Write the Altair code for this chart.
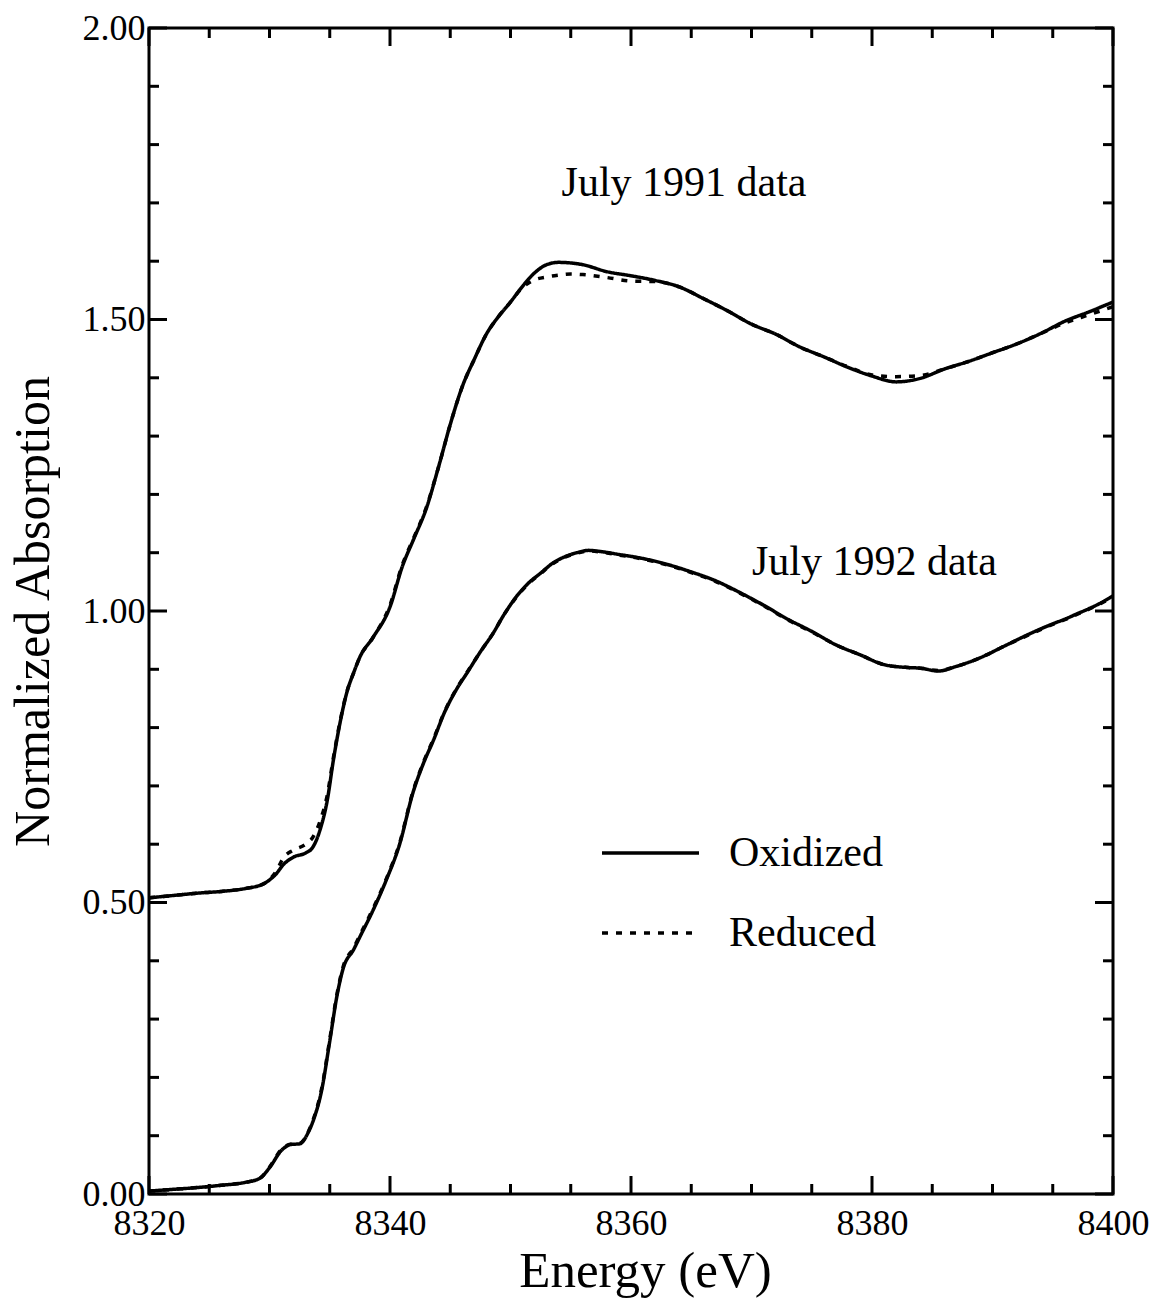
import altair as alt
import pandas as pd

FONT = "Liberation Serif"

# ---- July 1991 scan: energy (eV) and normalized absorption ----
energy_1991 = [
    8320, 8322, 8324, 8326, 8328, 8329.5, 8330.5, 8331.2, 8332, 8333,
    8333.6, 8334.2, 8334.8, 8335.3, 8335.9, 8336.4, 8337, 8337.5, 8338.6, 8340,
    8341, 8342, 8343, 8344, 8345, 8346, 8347, 8348, 8349, 8350,
    8351, 8352, 8353, 8354, 8355, 8356, 8358, 8360, 8362, 8364,
    8366, 8368, 8370, 8372, 8374, 8376, 8378, 8380, 8382, 8384,
    8386, 8388, 8390, 8392, 8394, 8396, 8398, 8400,
]
oxidized_1991 = [
    0.508, 0.512, 0.516, 0.519, 0.524, 0.532, 0.548, 0.566, 0.578, 0.585,
    0.595, 0.625, 0.676, 0.744, 0.813, 0.859, 0.895, 0.921, 0.955, 1.007,
    1.075, 1.125, 1.175, 1.245, 1.320, 1.385, 1.432, 1.475, 1.505, 1.530,
    1.557, 1.580, 1.594, 1.598, 1.597, 1.594, 1.582, 1.575, 1.567, 1.556,
    1.536, 1.515, 1.492, 1.475, 1.453, 1.436, 1.418, 1.403, 1.393, 1.399,
    1.415, 1.428, 1.443, 1.458, 1.476, 1.497, 1.513, 1.530,
]
reduced_1991 = [
    0.508, 0.512, 0.516, 0.519, 0.524, 0.532, 0.552, 0.578, 0.590, 0.600,
    0.612, 0.640, 0.685, 0.748, 0.815, 0.860, 0.895, 0.921, 0.955, 1.010,
    1.078, 1.127, 1.177, 1.245, 1.320, 1.385, 1.432, 1.475, 1.505, 1.530,
    1.555, 1.568, 1.573, 1.576, 1.578, 1.577, 1.572, 1.566, 1.565, 1.556,
    1.536, 1.515, 1.492, 1.475, 1.453, 1.436, 1.419, 1.405, 1.402, 1.404,
    1.415, 1.428, 1.443, 1.458, 1.476, 1.494, 1.508, 1.522,
]

# ---- July 1992 scan ----
energy_1992 = [
    8320, 8322, 8324, 8326, 8328, 8329.2, 8330, 8331, 8331.8, 8332.5,
    8333.2, 8333.7, 8334.3, 8335, 8335.6, 8336.1, 8337, 8337.5, 8338.6, 8339.7,
    8340.8, 8341.9, 8342.8, 8343.6, 8344.5, 8345.5, 8346.4, 8347.5, 8348.5, 8349.5,
    8350.5, 8351.5, 8352.5, 8353.5, 8354.5, 8355.5, 8356.5, 8357.5, 8359, 8361,
    8363, 8365, 8367, 8369, 8371, 8373, 8375, 8377, 8379, 8381,
    8383, 8384, 8385.5, 8387, 8389, 8391, 8393, 8395, 8396, 8397, 8398, 8399, 8400,
]
oxidized_1992 = [
    0.005, 0.008, 0.011, 0.015, 0.020, 0.027, 0.045, 0.075, 0.085, 0.086,
    0.105, 0.130, 0.175, 0.262, 0.340, 0.386, 0.420, 0.441, 0.487, 0.539,
    0.600, 0.688, 0.740, 0.778, 0.825, 0.865, 0.894, 0.930, 0.960, 0.995,
    1.025, 1.048, 1.065, 1.082, 1.093, 1.100, 1.104, 1.102, 1.097, 1.090,
    1.080, 1.067, 1.052, 1.032, 1.010, 0.986, 0.965, 0.942, 0.925, 0.908,
    0.903, 0.902, 0.897, 0.905, 0.920, 0.940, 0.960, 0.978, 0.986, 0.995, 1.004, 1.014, 1.026,
]
reduced_1992 = [
    0.005, 0.008, 0.011, 0.015, 0.020, 0.027, 0.046, 0.077, 0.086, 0.087,
    0.106, 0.132, 0.178, 0.265, 0.343, 0.389, 0.423, 0.444, 0.490, 0.541,
    0.602, 0.690, 0.742, 0.780, 0.826, 0.866, 0.895, 0.930, 0.960, 0.995,
    1.024, 1.047, 1.064, 1.081, 1.092, 1.099, 1.103, 1.101, 1.096, 1.089,
    1.079, 1.066, 1.051, 1.031, 1.009, 0.985, 0.964, 0.942, 0.925, 0.908,
    0.903, 0.902, 0.898, 0.905, 0.920, 0.940, 0.959, 0.977, 0.985, 0.994, 1.003, 1.013, 1.024,
]

# ---- axis ticks ----
x_major_ticks = [8320, 8340, 8360, 8380, 8400]
x_minor_ticks = [8325, 8330, 8335, 8345, 8350, 8355, 8365, 8370, 8375, 8385, 8390, 8395]
y_major_ticks = [0.0, 0.5, 1.0, 1.5, 2.0]
y_minor_ticks = [0.1, 0.2, 0.3, 0.4, 0.6, 0.7, 0.8, 0.9,
                 1.1, 1.2, 1.3, 1.4, 1.6, 1.7, 1.8, 1.9]

# ---- curve annotations ----
note_labels = ["July 1991 data", "July 1992 data"]
note_energy = [8364.4, 8380.2]
note_absorption = [1.734, 1.084]

# plot area and tick geometry (pixels)
W, H = 964, 1166
MAJOR_LEN, MINOR_LEN = 18, 10
FRAME = 3


def series(year, state, energy, values):
    return pd.DataFrame({"year": year, "state": state, "energy": energy, "absorption": values})


curves = pd.concat([
    series("1991", "Oxidized", energy_1991, oxidized_1991),
    series("1991", "Reduced", energy_1991, reduced_1991),
    series("1992", "Oxidized", energy_1992, oxidized_1992),
    series("1992", "Reduced", energy_1992, reduced_1992),
], ignore_index=True)

notes = pd.DataFrame({"label": note_labels, "energy": note_energy, "absorption": note_absorption})

x_scale = alt.Scale(domain=[8320, 8400], nice=False, zero=False)
y_scale = alt.Scale(domain=[0, 2], nice=False, zero=False)
dash_scale = alt.Scale(domain=["Oxidized", "Reduced"], range=[[1, 0], [6, 8]])

# every layer carries the same axis definition so the shared axes merge cleanly
x_axis = alt.Axis(
    orient="bottom", values=x_major_ticks, format="d", title="Energy (eV)",
    ticks=False, grid=False, domain=False, labelPadding=12, labelFlush=False,
    labelOverlap=False, labelFont=FONT, labelFontSize=36, labelColor="black",
    titlePadding=5, titleX=496,
    titleFont=FONT, titleFontSize=51, titleFontWeight="normal", titleColor="black",
)
y_axis = alt.Axis(
    orient="left", values=y_major_ticks, format=".2f", title="Normalized Absorption",
    ticks=False, grid=False, domain=False, labelPadding=4, labelFlush=False,
    labelOverlap=False, labelFont=FONT, labelFontSize=36, labelColor="black",
    titlePadding=24,
    titleFont=FONT, titleFontSize=50, titleFontWeight="normal", titleColor="black",
)
legend = alt.Legend(
    title=None, orient="none", legendX=451, legendY=803, symbolType="stroke",
    symbolSize=9409, symbolStrokeWidth=3.5, symbolStrokeColor="black",
    labelFont=FONT, labelFontSize=42, labelColor="black", labelOffset=28,
    labelLimit=400, clipHeight=44, rowPadding=36, padding=0,
)

X = alt.X("energy:Q", scale=x_scale, axis=x_axis)
Y = alt.Y("absorption:Q", scale=y_scale, axis=y_axis)


def curve_layer(state):
    return (
        alt.Chart(curves)
        .transform_filter(alt.datum.state == state)
        .mark_line(color="black", strokeWidth=3.5, interpolate="monotone")
        .encode(
            x=X, y=Y,
            strokeDash=alt.StrokeDash("state:N", scale=dash_scale, legend=legend),
            detail="year:N",
        )
    )


def x_ticks(values, length, at_bottom):
    base = alt.Chart(pd.DataFrame({"energy": values})).mark_rule(color="black", strokeWidth=FRAME)
    edge = H if at_bottom else 0
    inner = H - length if at_bottom else length
    return base.encode(x=X, y=alt.value(edge), y2=alt.value(inner))


def y_ticks(values, length, at_right):
    base = alt.Chart(pd.DataFrame({"absorption": values})).mark_rule(color="black", strokeWidth=FRAME)
    edge = W if at_right else 0
    inner = W - length if at_right else length
    return base.encode(y=Y, x=alt.value(edge), x2=alt.value(inner))


tick_layers = [
    x_ticks(x_major_ticks, MAJOR_LEN, True), x_ticks(x_minor_ticks, MINOR_LEN, True),
    x_ticks(x_major_ticks, MAJOR_LEN, False), x_ticks(x_minor_ticks, MINOR_LEN, False),
    y_ticks(y_major_ticks, MAJOR_LEN, False), y_ticks(y_minor_ticks, MINOR_LEN, False),
    y_ticks(y_major_ticks, MAJOR_LEN, True), y_ticks(y_minor_ticks, MINOR_LEN, True),
]

labels = alt.Chart(notes).mark_text(
    font=FONT, fontSize=42, color="black", align="center", baseline="middle"
).encode(x=X, y=Y, text="label:N")

chart = (
    alt.layer(*tick_layers, curve_layer("Reduced"), curve_layer("Oxidized"), labels)
    .properties(
        width=W, height=H,
        autosize=alt.AutoSizeParams(type="none"),
        padding={"left": 149, "top": 28, "right": 43, "bottom": 109},
        background="white",
    )
    .configure_view(stroke="black", strokeWidth=FRAME)
)

chart.save("out.html", embed_options={"renderer": "svg", "actions": False})
